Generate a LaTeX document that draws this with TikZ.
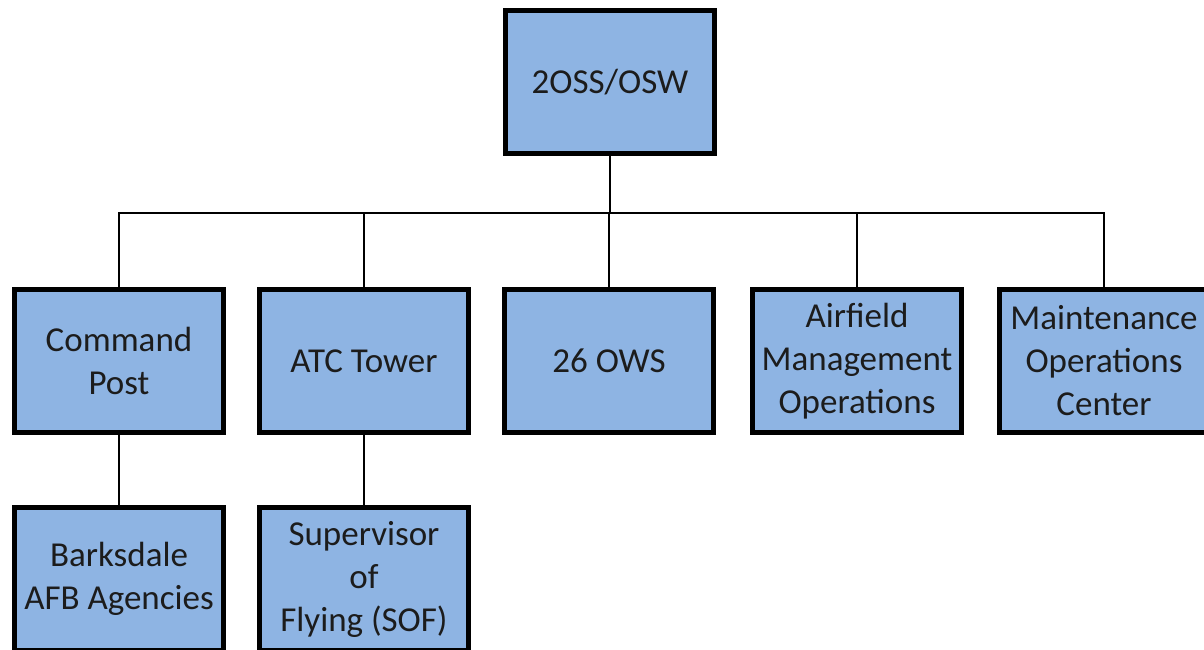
\documentclass[tikz,border=0pt]{standalone}
\usepackage{fontspec}
\setmainfont{Carlito}
\definecolor{boxfill}{HTML}{8EB4E3}
\definecolor{txt}{HTML}{1C1C1C}
\begin{document}
\begin{tikzpicture}[x=1pt,y=-1pt,
  org/.style={draw=black, line width=5pt, fill=boxfill, rectangle,
    minimum width=209pt, minimum height=143pt, inner sep=0pt, outer sep=0pt,
    align=center, text=txt, font=\fontsize{35}{43}\selectfont},
  link/.style={draw=black, line width=2pt}]
\useasboundingbox (0,0) rectangle (1204,650);
\clip (0,0) rectangle (1204,650);
\coordinate (bar) at (0,213);
\node[org] (top) at (610,82) {2OSS/OSW};
\node[org] (cp) at (119,361) {Command\\Post};
\node[org] (atc) at (364,361) {ATC Tower};
\node[org] (ows) at (609,361) {26 OWS};
\node[org] (afm) at (857,361) {Airfield\\Management\\Operations};
\node[org] (moc) at (1104,361) {Maintenance\\Operations\\Center};
\node[org] (bafb) at (119,579) {Barksdale\\AFB Agencies};
\node[org] (sof) at (364,579) {Supervisor\\of\\Flying (SOF)};
\draw[link] (top.south) -- (top.south |- bar);
\draw[link] (cp.north) -- (cp.north |- bar) -- (moc.north |- bar) -- (moc.north);
\draw[link] (atc.north) -- (atc.north |- bar);
\draw[link] (ows.north) -- (ows.north |- bar);
\draw[link] (afm.north) -- (afm.north |- bar);
\draw[link] (cp.south) -- (bafb.north);
\draw[link] (atc.south) -- (sof.north);
\end{tikzpicture}
\end{document}
